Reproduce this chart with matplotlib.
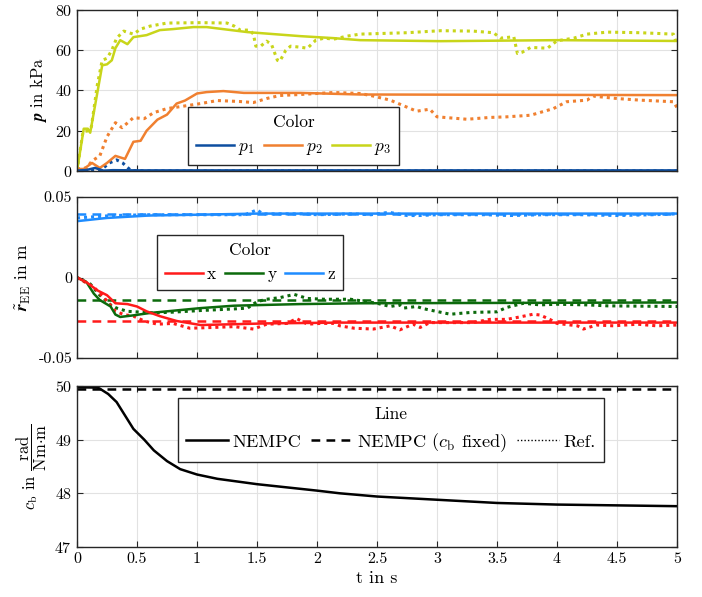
import matplotlib
matplotlib.use("Agg")
import matplotlib.pyplot as plt
from matplotlib.lines import Line2D

plt.rcParams["font.family"] = ["cmr10", "DejaVu Serif"]
plt.rcParams["mathtext.fontset"] = "cm"
plt.rcParams["axes.formatter.use_mathtext"] = True
plt.rcParams["font.size"] = 11.5

C_P1 = "#0d4ea0"
C_P2 = "#f08030"
C_P3 = "#c8d51a"
C_X = "#ff1a1a"
C_Y = "#0c6a0c"
C_Z = "#1e8cff"

# --- pressures (kPa) ---
t_p3 = [0, 0.056, 0.09, 0.11, 0.21, 0.25, 0.29, 0.32, 0.36, 0.42, 0.47, 0.58, 0.69, 0.8, 0.97, 1.08,
        1.42, 1.86, 2.14, 2.36, 3.03, 4.0, 5.0]
p3 = [0, 21, 21, 19, 52.5, 53, 55, 61, 65, 63, 66.5, 67.5, 70, 70.5, 71.5, 71.5,
      69, 67, 66, 65, 64.5, 65, 64.6]
t_p3_ref = [0, 0.05, 0.1, 0.12, 0.17, 0.21, 0.25, 0.29, 0.33, 0.39, 0.47, 0.53, 0.61, 0.75, 1.03, 1.25,
            1.31, 1.36, 1.44, 1.47, 1.49, 1.53, 1.58, 1.62, 1.67, 1.69, 1.74, 1.78, 1.86, 1.92, 1.99,
            2.06, 2.14, 2.25, 2.36, 2.75, 3.03, 3.3, 3.47, 3.53, 3.64, 3.67, 3.71, 3.78, 3.92, 4.0,
            4.14, 4.25, 4.42, 4.69, 4.97, 5.0]
p3_ref = [0, 19.5, 20, 22, 43, 55, 56, 60, 66, 69.5, 68, 70.5, 72, 73.5, 73.7, 73.5,
          72, 70, 70, 68, 62, 62, 64.5, 63, 55, 54.5, 60, 62, 61.5, 61, 65,
          66, 65.5, 67, 68, 68.7, 69.7, 69.5, 68.7, 66, 66.7, 58.4, 59, 61.4, 61, 64.7,
          66, 68, 69, 68.7, 68, 62.6]

t_p2 = [0, 0.056, 0.125, 0.19, 0.25, 0.32, 0.4, 0.47, 0.53, 0.58, 0.67, 0.75, 0.83, 0.9, 1.0, 1.08,
        1.22, 1.39, 1.86, 2.36, 5.0]
p2 = [1, 1, 4, 1.5, 4, 7.5, 6, 14.5, 15, 20, 25.5, 28, 33.5, 35, 38.5, 39.2,
      39.7, 38.8, 38.8, 38, 37.7]
t_p2_ref = [0, 0.08, 0.125, 0.19, 0.25, 0.32, 0.375, 0.47, 0.56, 0.64, 0.75, 0.92, 1.03, 1.17, 1.36,
            1.47, 1.58, 1.69, 1.86, 2.14, 2.36, 2.47, 2.61, 2.83, 2.94, 3.0, 3.25, 3.44, 3.58, 3.78,
            3.97, 4.08, 4.25, 4.3, 4.5, 4.69, 4.97, 5.0]
p2_ref = [1, 1.5, 5, 7.5, 17, 24, 21.5, 26.5, 26, 29, 31, 32.5, 33.5, 35, 34.5,
          34, 36, 37.5, 38, 39, 38.5, 37.2, 35.2, 29.7, 30.7, 26.9, 25.7, 26.6, 26.9, 27.7,
          31, 34.4, 35.2, 37.2, 36, 35.2, 34.4, 31.5]

t_p1 = [0, 0.08, 0.15, 0.22, 0.3, 0.5, 5.0]
p1 = [0.2, 0.5, 1.5, 0.2, 0.4, 0.3, 0.3]
t_p1_ref = [0, 0.1, 0.2, 0.27, 0.33, 0.38, 0.45, 0.6, 5.0]
p1_ref = [0, 0.2, 0.5, 4, 5.5, 4, 0.2, 0, 0]

# --- end-effector position (m) ---
t_xs = [0, 0.08, 0.17, 0.25, 0.32, 0.42, 0.5, 0.58, 0.69, 0.83, 1.03, 1.31, 1.58, 2.2, 5.0]
x_s = [0, -0.003, -0.008, -0.011, -0.016, -0.0165, -0.018, -0.021, -0.024, -0.027, -0.0295, -0.029,
       -0.0285, -0.028, -0.028]
t_xr = [0, 0.14, 0.22, 0.32, 0.39, 0.47, 0.56, 0.67, 0.8, 0.94, 1.14, 1.31, 1.47, 1.58, 1.75, 1.83,
        1.92, 2.03, 2.14, 2.19, 2.31, 2.47, 2.61, 2.69, 2.8, 2.86, 2.94, 3.3, 3.44, 3.58, 3.69,
        3.8, 3.86, 3.94, 4.0, 4.17, 4.22, 4.33, 4.47, 4.67, 4.83, 5.0]
x_r = [0, -0.006, -0.012, -0.021, -0.023, -0.024, -0.027, -0.029, -0.0285, -0.0315, -0.031, -0.0305,
       -0.032, -0.029, -0.0285, -0.0255, -0.029, -0.0285, -0.0285, -0.030, -0.0315, -0.032, -0.030,
       -0.0325, -0.029, -0.031, -0.028, -0.028, -0.026, -0.026, -0.0245, -0.0228, -0.0233, -0.026,
       -0.0285, -0.030, -0.032, -0.0295, -0.030, -0.029, -0.030, -0.0295]
x_fix = -0.0273

t_ys = [0, 0.08, 0.14, 0.19, 0.28, 0.32, 0.36, 0.47, 0.61, 0.75, 1.03, 1.31, 1.58, 1.86, 2.36, 5.0]
y_s = [0, -0.003, -0.01, -0.014, -0.018, -0.023, -0.0245, -0.0235, -0.022, -0.021, -0.019, -0.0175,
       -0.017, -0.0165, -0.016, -0.0155]
t_yr = [0, 0.11, 0.19, 0.28, 0.33, 0.42, 0.53, 0.64, 0.8, 1.03, 1.31, 1.42, 1.5, 1.58, 1.69, 1.81,
        1.92, 2.06, 2.28, 2.5, 2.61, 2.69, 2.72, 2.83, 2.89, 3.11, 3.28, 3.5, 3.58, 3.72, 3.86,
        4.0, 4.25, 4.42, 5.0]
y_r = [0, -0.004, -0.011, -0.017, -0.019, -0.021, -0.0215, -0.022, -0.0215, -0.0205, -0.0195, -0.019,
       -0.015, -0.0135, -0.0125, -0.0105, -0.013, -0.0135, -0.0135, -0.016, -0.018, -0.017, -0.019,
       -0.018, -0.0194, -0.0228, -0.0217, -0.0213, -0.0186, -0.016, -0.017, -0.0166, -0.017, -0.0176,
       -0.018]
y_fix = -0.0142

t_zs = [0, 0.25, 0.6, 1.0, 1.5, 5.0]
z_s = [0.035, 0.037, 0.0385, 0.039, 0.0397, 0.0397]
t_zr = [0, 0.3, 0.6, 1.0, 1.4, 1.5, 1.55, 1.9, 2.0, 2.3, 2.45, 2.6, 2.75, 2.85, 3.0, 3.4, 3.6,
        3.9, 4.2, 4.5, 4.8, 5.0]
z_r = [0.037, 0.0385, 0.039, 0.039, 0.039, 0.042, 0.0395, 0.0395, 0.039, 0.0395, 0.039, 0.0405,
       0.0385, 0.0385, 0.039, 0.039, 0.0385, 0.039, 0.039, 0.0385, 0.039, 0.0395]
z_fix = 0.0396

# --- bending compliance ---
t_cb = [0, 0.17, 0.19, 0.26, 0.33, 0.4, 0.47, 0.56, 0.64, 0.75, 0.86, 1.0, 1.17, 1.5, 2.0, 2.19,
        2.5, 3.0, 3.5, 4.0, 5.0]
cb = [49.975, 49.97, 49.95, 49.85, 49.7, 49.45, 49.2, 49.0, 48.8, 48.6, 48.45, 48.35, 48.27, 48.17,
      48.05, 48.0, 47.94, 47.88, 47.82, 47.79, 47.76]
cb_fix = 49.95

t_ticks = [0, 0.5, 1, 1.5, 2, 2.5, 3, 3.5, 4, 4.5, 5]
t_ticklabels = ["0", "0.5", "1", "1.5", "2", "2.5", "3", "3.5", "4", "4.5", "5"]

LW = 1.8
DOT = dict(linestyle=(0, (1, 1.3)), lw=2.2, dash_capstyle="butt")
DASH = dict(linestyle=(0, (3.5, 2.5)), lw=LW)

fig = plt.figure(figsize=(7.02, 5.97), dpi=100)
ax1 = fig.add_axes([0.1097, 0.7136, 0.8547, 0.2697])
ax2 = fig.add_axes([0.1097, 0.4003, 0.8547, 0.2697])
ax3 = fig.add_axes([0.1097, 0.0838, 0.8547, 0.2697])

for ax in (ax1, ax2, ax3):
    ax.set_xlim(0, 5)
    ax.set_xticks(t_ticks)
    ax.grid(True, color="#e2e2e2", lw=0.8)
    ax.set_axisbelow(True)
    ax.tick_params(direction="in", top=True, right=True, length=4, color="#262626", labelsize=11.5)
    for s in ax.spines.values():
        s.set_color("#262626")
        s.set_linewidth(1.0)


def make_legend(ax, handles, labels, title, anchor, fs, hl):
    lg = ax.legend(handles, labels, title=title, ncol=3, loc="lower left", bbox_to_anchor=anchor,
                   borderaxespad=0, handlelength=hl, columnspacing=0.5, handletextpad=0.25,
                   fancybox=False, edgecolor="#262626", framealpha=1, fontsize=fs,
                   title_fontsize=12.5, borderpad=0.45)
    lg.get_frame().set_linewidth(1.0)
    return lg


# top: pressures
ax1.plot(t_p3_ref, p3_ref, color=C_P3, **DOT)
ax1.plot(t_p2_ref, p2_ref, color=C_P2, **DOT)
ax1.plot(t_p1_ref, p1_ref, color=C_P1, **DOT)
ax1.plot(t_p3, p3, color=C_P3, lw=LW)
ax1.plot(t_p2, p2, color=C_P2, lw=LW)
ax1.plot(t_p1, p1, color=C_P1, lw=LW)
ax1.set_ylim(0, 80)
ax1.set_yticks([0, 20, 40, 60, 80])
ax1.set_xticklabels([])
ax1.set_ylabel(r"$\mathbfit{p}$ in kPa", fontsize=12)
h1 = [Line2D([], [], color=c, lw=LW) for c in (C_P1, C_P2, C_P3)]
make_legend(ax1, h1, [r"$p_1$", r"$p_2$", r"$p_3$"], "Color", (0.185, 0.037), 12.5, 2.2)

# middle: position
ax2.axhline(z_fix, color=C_Z, **DASH)
ax2.axhline(y_fix, color=C_Y, **DASH)
ax2.axhline(x_fix, color=C_X, **DASH)
ax2.plot(t_zr, z_r, color=C_Z, **DOT)
ax2.plot(t_yr, y_r, color=C_Y, **DOT)
ax2.plot(t_xr, x_r, color=C_X, **DOT)
ax2.plot(t_zs, z_s, color=C_Z, lw=LW)
ax2.plot(t_ys, y_s, color=C_Y, lw=LW)
ax2.plot(t_xs, x_s, color=C_X, lw=LW)
ax2.set_ylim(-0.05, 0.05)
ax2.set_yticks([-0.05, 0, 0.05])
ax2.set_yticklabels(["-0.05", "0", "0.05"])
ax2.set_xticklabels([])
ax2.set_ylabel(r"$\tilde{\mathbfit{r}}_\mathrm{EE}$ in m", fontsize=12.5)
h2 = [Line2D([], [], color=c, lw=LW) for c in (C_X, C_Y, C_Z)]
make_legend(ax2, h2, ["x", "y", "z"], "Color", (0.133, 0.422), 12.5, 2.2)

# bottom: compliance
ax3.axhline(cb_fix, color="black", **DASH)
ax3.plot(t_cb, cb, color="black", lw=LW)
ax3.set_ylim(47, 50)
ax3.set_yticks([47, 48, 49, 50])
ax3.set_xticklabels(t_ticklabels)
ax3.set_xlabel("t in s", fontsize=13)
ax3.set_ylabel(r"$c_\mathrm{b}$ in $\dfrac{\mathrm{rad}}{\mathrm{Nm{\cdot}m}}$", fontsize=12)
h3 = [Line2D([], [], color="black", lw=LW),
      Line2D([], [], color="black", lw=LW, linestyle=(0, (3.5, 2.5))),
      Line2D([], [], color="black", lw=1.0, linestyle=(0, (1, 1.5)))]
make_legend(ax3, h3, ["NEMPC", r"NEMPC ($c_\mathrm{b}$ fixed)", "Ref."], "Line",
            (0.168, 0.528), 13.2, 2.3)

fig.savefig("out.png", dpi=100)
